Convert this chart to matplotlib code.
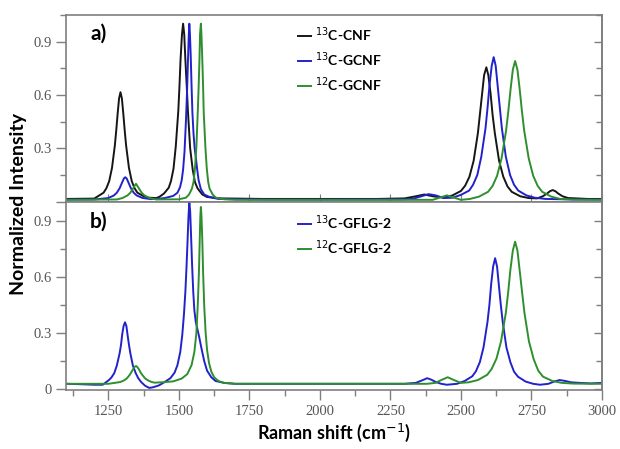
import matplotlib.pyplot as plt
from matplotlib.ticker import MultipleLocator

# ---- panel a) ----
cnf13_x = [1100, 1150, 1200, 1213, 1233, 1243, 1253, 1263, 1273, 1278, 1283, 1288, 1293,
           1298, 1303, 1308, 1313, 1323, 1333, 1343, 1353, 1373, 1393, 1420, 1430, 1447,
           1464, 1472, 1481, 1489, 1498, 1502, 1506, 1511, 1515, 1519, 1523, 1528, 1532,
           1540, 1549, 1557, 1566, 1583, 1600, 1650, 1800, 2000, 2200, 2300, 2340, 2370,
           2400, 2440, 2470, 2500, 2515, 2530, 2545, 2560, 2567, 2575, 2582, 2590, 2597,
           2605, 2612, 2620, 2635, 2650, 2665, 2680, 2710, 2740, 2770, 2790, 2805, 2815,
           2825, 2835, 2845, 2860, 2880, 2950, 3000]
cnf13_y = [0.015, 0.016, 0.017, 0.030, 0.050, 0.075, 0.115, 0.190, 0.315, 0.400, 0.495, 0.580, 0.615,
           0.580, 0.495, 0.400, 0.315, 0.190, 0.115, 0.075, 0.050, 0.032, 0.022, 0.020, 0.026, 0.045,
           0.078, 0.115, 0.185, 0.310, 0.510, 0.645, 0.800, 0.940, 1.000, 0.940, 0.800, 0.645, 0.510,
           0.300, 0.180, 0.110, 0.075, 0.040, 0.026, 0.018, 0.015, 0.015, 0.015, 0.018, 0.030, 0.040,
           0.030, 0.022, 0.035, 0.060, 0.090, 0.140, 0.230, 0.385, 0.489, 0.607, 0.711, 0.755, 0.711,
           0.607, 0.489, 0.385, 0.230, 0.140, 0.085, 0.055, 0.030, 0.020, 0.018, 0.030, 0.045, 0.058,
           0.065, 0.058, 0.045, 0.030, 0.020, 0.015, 0.015]

gcnf13_x = [1100, 1200, 1250, 1270, 1280, 1290, 1300, 1305, 1310, 1315, 1320, 1330, 1340,
            1350, 1370, 1400, 1420, 1450, 1470, 1480, 1495, 1504, 1510, 1515, 1520, 1525,
            1529, 1532, 1535, 1537, 1539, 1542, 1545, 1548, 1552, 1556, 1560, 1565, 1570,
            1578, 1590, 1610, 1640, 1800, 2000, 2300, 2330, 2360, 2385, 2410, 2440, 2471,
            2500, 2529, 2543, 2558, 2572, 2587, 2594, 2601, 2609, 2616, 2623, 2630, 2638,
            2645, 2659, 2674, 2688, 2703, 2732, 2761, 2800, 2900, 3000]
gcnf13_y = [0.012, 0.012, 0.020, 0.035, 0.050, 0.075, 0.112, 0.130, 0.137, 0.130, 0.112, 0.075, 0.050,
            0.035, 0.021, 0.014, 0.015, 0.020, 0.028, 0.032, 0.050, 0.080, 0.120, 0.180, 0.280, 0.450,
            0.620, 0.780, 0.930, 1.000, 0.950, 0.820, 0.650, 0.500, 0.380, 0.300, 0.250, 0.180, 0.120,
            0.070, 0.040, 0.025, 0.015, 0.012, 0.012, 0.013, 0.016, 0.030, 0.042, 0.035, 0.020, 0.022,
            0.038, 0.062, 0.095, 0.150, 0.252, 0.412, 0.524, 0.652, 0.764, 0.812, 0.764, 0.652, 0.524,
            0.412, 0.252, 0.150, 0.095, 0.062, 0.035, 0.022, 0.015, 0.012, 0.012]

gcnf12_x = [1100, 1280, 1300, 1318, 1328, 1338, 1343, 1348, 1353, 1358, 1368, 1378, 1396,
            1420, 1500, 1525, 1536, 1546, 1552, 1557, 1562, 1567, 1570, 1573, 1575, 1578,
            1580, 1583, 1586, 1588, 1594, 1599, 1604, 1609, 1620, 1631, 1660, 1700, 2000,
            2400, 2430, 2450, 2470, 2500, 2532, 2564, 2596, 2612, 2628, 2644, 2660, 2668,
            2676, 2684, 2692, 2700, 2708, 2716, 2724, 2740, 2756, 2772, 2788, 2820, 2852,
            2900, 3000]
gcnf12_y = [0.010, 0.012, 0.020, 0.035, 0.050, 0.075, 0.088, 0.100, 0.088, 0.075, 0.050, 0.035, 0.020,
            0.012, 0.013, 0.022, 0.040, 0.072, 0.110, 0.185, 0.305, 0.505, 0.640, 0.800, 0.940, 1.000,
            0.940, 0.800, 0.640, 0.505, 0.305, 0.185, 0.110, 0.072, 0.040, 0.022, 0.013, 0.010, 0.010,
            0.010, 0.025, 0.035, 0.025, 0.010, 0.015, 0.028, 0.055, 0.088, 0.145, 0.244, 0.400, 0.510,
            0.634, 0.743, 0.790, 0.743, 0.634, 0.510, 0.400, 0.244, 0.145, 0.088, 0.055, 0.028, 0.015,
            0.011, 0.010]

# ---- panel b) ----
gflg13_x = [1100, 1150, 1200, 1230, 1252, 1261, 1271, 1280, 1290, 1295, 1299, 1304, 1309,
            1314, 1318, 1323, 1328, 1337, 1347, 1356, 1366, 1380, 1395, 1410, 1430, 1450,
            1470, 1485, 1495, 1505, 1512, 1518, 1523, 1527, 1531, 1534, 1537, 1540, 1543,
            1547, 1551, 1555, 1560, 1566, 1572, 1580, 1590, 1600, 1615, 1630, 1660, 1700,
            2000, 2300, 2340, 2365, 2380, 2395, 2410, 2430, 2450, 2486, 2513, 2540, 2553,
            2567, 2580, 2594, 2601, 2607, 2614, 2621, 2628, 2634, 2641, 2648, 2661, 2675,
            2688, 2702, 2729, 2756, 2780, 2810, 2830, 2850, 2870, 2890, 2920, 2960, 3000]
gflg13_y = [0.030, 0.028, 0.025, 0.025, 0.050, 0.064, 0.087, 0.127, 0.193, 0.239, 0.292, 0.338, 0.358,
            0.338, 0.292, 0.239, 0.193, 0.127, 0.087, 0.060, 0.040, 0.020, 0.008, 0.012, 0.022, 0.040,
            0.060, 0.090, 0.130, 0.200, 0.290, 0.400, 0.520, 0.650, 0.800, 0.920, 1.000, 0.950, 0.830,
            0.660, 0.520, 0.420, 0.360, 0.320, 0.280, 0.220, 0.150, 0.100, 0.065, 0.045, 0.035, 0.030,
            0.030, 0.030, 0.035, 0.050, 0.060, 0.052, 0.040, 0.030, 0.025, 0.030, 0.045, 0.070, 0.097,
            0.146, 0.225, 0.360, 0.454, 0.561, 0.655, 0.700, 0.655, 0.561, 0.454, 0.360, 0.225, 0.146,
            0.095, 0.068, 0.042, 0.030, 0.025, 0.030, 0.042, 0.050, 0.045, 0.038, 0.035, 0.032, 0.035]

gflg12_x = [1100, 1250, 1282, 1293, 1304, 1315, 1326, 1331, 1337, 1342, 1348, 1353, 1359,
            1364, 1370, 1381, 1392, 1403, 1414, 1440, 1480, 1510, 1530, 1545, 1555, 1562,
            1567, 1571, 1574, 1576, 1578, 1580, 1583, 1586, 1590, 1595, 1600, 1607, 1615,
            1625, 1640, 1660, 1700, 2000, 2380, 2410, 2430, 2453, 2475, 2500, 2527, 2560,
            2593, 2609, 2626, 2642, 2659, 2667, 2675, 2684, 2692, 2700, 2708, 2717, 2725,
            2741, 2758, 2774, 2791, 2824, 2857, 2900, 3000]
gflg12_y = [0.030, 0.030, 0.037, 0.040, 0.047, 0.058, 0.078, 0.091, 0.106, 0.119, 0.125, 0.119, 0.106,
            0.091, 0.078, 0.058, 0.047, 0.040, 0.036, 0.038, 0.043, 0.058, 0.082, 0.130, 0.200, 0.300,
            0.450, 0.620, 0.800, 0.920, 0.973, 0.930, 0.800, 0.620, 0.440, 0.300, 0.210, 0.140, 0.095,
            0.065, 0.045, 0.035, 0.030, 0.030, 0.030, 0.035, 0.050, 0.065, 0.050, 0.035, 0.038, 0.050,
            0.078, 0.110, 0.165, 0.256, 0.408, 0.514, 0.636, 0.742, 0.788, 0.742, 0.636, 0.514, 0.408,
            0.256, 0.160, 0.100, 0.068, 0.045, 0.035, 0.031, 0.030]

x_ticks = [1250, 1500, 1750, 2000, 2250, 2500, 2750, 3000]
y_ticks = [0, 0.3, 0.6, 0.9]

black = '#161616'
blue = '#2222cc'
green = '#2f8f2f'
spine_c = '#7f7f7f'
tick_font = {'family': 'Liberation Serif', 'size': 10.5, 'color': '#555555'}

fig = plt.figure(figsize=(6.2, 4.49), dpi=100)
ax1 = fig.add_axes([0.1065, 0.549, 0.8645, 0.418])
ax2 = fig.add_axes([0.1065, 0.131, 0.8645, 0.418])

ax1.plot(cnf13_x, cnf13_y, color=black, lw=1.4, label='$^{13}$C-CNF')
ax1.plot(gcnf13_x, gcnf13_y, color=blue, lw=1.4, label='$^{13}$C-GCNF')
ax1.plot(gcnf12_x, gcnf12_y, color=green, lw=1.4, label='$^{12}$C-GCNF')
ax2.plot(gflg13_x, gflg13_y, color=blue, lw=1.4, label='$^{13}$C-GFLG-2')
ax2.plot(gflg12_x, gflg12_y, color=green, lw=1.4, label='$^{12}$C-GFLG-2')

ax1.set_ylim(-0.005, 1.05)
ax2.set_ylim(-0.004, 0.997)

for ax in (ax1, ax2):
    ax.set_xlim(1100, 3000)
    ax.set_xticks(x_ticks)
    ax.xaxis.set_minor_locator(MultipleLocator(125))
    ax.set_yticks(y_ticks)
    ax.yaxis.set_minor_locator(MultipleLocator(0.15))
    for s in ax.spines.values():
        s.set_color(spine_c)
        s.set_linewidth(1.2)
    ax.tick_params(axis='y', which='both', direction='out', color=spine_c, width=1.0)
    ax.tick_params(axis='y', which='major', length=7)
    ax.tick_params(axis='y', which='minor', length=4)
    ax.set_yticklabels(['0', '0.3', '0.6', '0.9'], fontdict=tick_font)
    sec = ax.secondary_yaxis('right')
    sec.set_yticks(y_ticks)
    sec.yaxis.set_minor_locator(MultipleLocator(0.15))
    sec.tick_params(axis='y', which='both', direction='in', color=spine_c, width=1.0, labelright=False)
    sec.tick_params(axis='y', which='major', length=6)
    sec.tick_params(axis='y', which='minor', length=4)
    sec.spines['right'].set_color(spine_c)
    sec.spines['right'].set_linewidth(1.2)
    ax.legend(loc='upper left', bbox_to_anchor=(0.41, 1.01), frameon=False,
              handlelength=0.9, handletextpad=0.3, labelspacing=0.45,
              prop={'family': 'Lato', 'weight': 'bold', 'size': 10})

ax1.set_yticklabels(['', '0.3', '0.6', '0.9'], fontdict=tick_font)
ax1.tick_params(axis='x', which='major', direction='in', length=6, color=spine_c, labelbottom=False)
ax1.tick_params(axis='x', which='minor', length=0)
ax2.tick_params(axis='x', which='both', direction='out', color=spine_c, width=1.0)
ax2.tick_params(axis='x', which='major', length=7, pad=4)
ax2.tick_params(axis='x', which='minor', length=4)
ax2.set_xticklabels([str(t) for t in x_ticks], fontdict=tick_font)

ax1.text(0.045, 0.90, 'a)', transform=ax1.transAxes, fontsize=15, fontweight='bold',
         family='Lato', va='center')
ax2.text(0.045, 0.90, 'b)', transform=ax2.transAxes, fontsize=15, fontweight='bold',
         family='Lato', va='center')

fig.text(0.539, 0.012, 'Raman shift (cm$^{-1}$)', family='Lato', fontweight='bold', fontsize=13,
         ha='center', va='bottom')
fig.text(0.03, 0.545, 'Normalized Intensity', rotation=90, family='Lato', fontweight='bold',
         fontsize=14, ha='center', va='center')

fig.savefig('out.png', dpi=100)
